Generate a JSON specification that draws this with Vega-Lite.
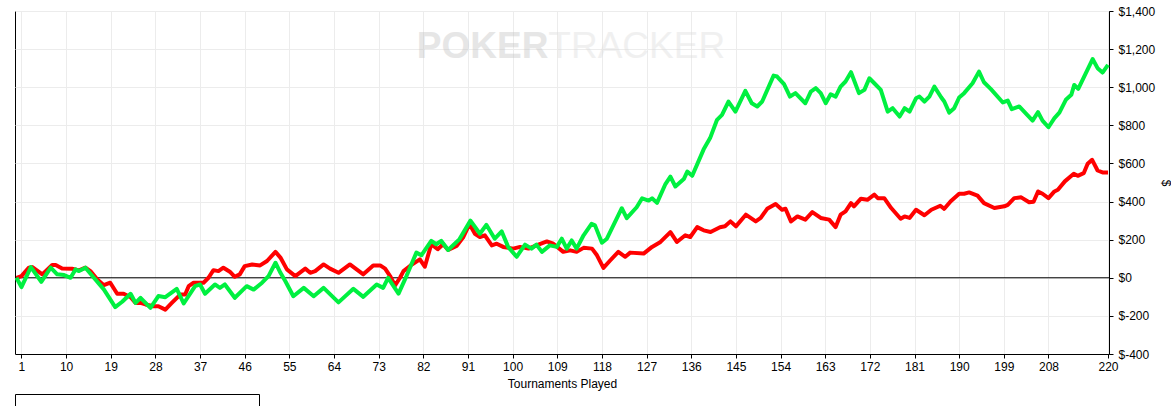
{
  "$schema": "https://vega.github.io/schema/vega-lite/v6.json",
  "width": 1094,
  "height": 343,
  "autosize": {"type": "none"},
  "padding": {"left": 15, "top": 11, "right": 62, "bottom": 52},
  "background": "white",
  "view": {"stroke": "black", "strokeWidth": 1},
  "config": {
    "font": "Liberation Sans",
    "axis": {
      "labelFont": "Liberation Sans",
      "labelFontSize": 12,
      "labelColor": "black",
      "labelOverlap": false,
      "labelFlush": false,
      "titleFont": "Liberation Sans",
      "titleFontSize": 12,
      "titleFontWeight": "normal",
      "titleColor": "black",
      "domainColor": "black",
      "tickColor": "black",
      "tickSize": 4,
      "gridColor": "#ececec",
      "gridWidth": 1
    },
    "axisY": {"labelOverlap": false, "labelFlush": false}
  },
  "datasets": {
    "graph": [
      {"Series": "All-In EV", "t": 0, "v": 0}, {"Series": "All-In EV", "t": 1, "v": 9}, {"Series": "All-In EV", "t": 2.5, "v": 53}, {"Series": "All-In EV", "t": 3.2, "v": 56}, {"Series": "All-In EV", "t": 5.2, "v": 18}, {"Series": "All-In EV", "t": 7.2, "v": 67}, {"Series": "All-In EV", "t": 7.9, "v": 67}, {"Series": "All-In EV", "t": 9.2, "v": 49}, {"Series": "All-In EV", "t": 11.2, "v": 47}, {"Series": "All-In EV", "t": 12.6, "v": 39}, {"Series": "All-In EV", "t": 13.9, "v": 53}, {"Series": "All-In EV", "t": 14.9, "v": 35}, {"Series": "All-In EV", "t": 16.3, "v": -9}, {"Series": "All-In EV", "t": 17.6, "v": -39}, {"Series": "All-In EV", "t": 18.9, "v": -26}, {"Series": "All-In EV", "t": 20.3, "v": -84}, {"Series": "All-In EV", "t": 21.6, "v": -84}, {"Series": "All-In EV", "t": 23, "v": -102}, {"Series": "All-In EV", "t": 24, "v": -132}, {"Series": "All-In EV", "t": 25, "v": -132}, {"Series": "All-In EV", "t": 26, "v": -140}, {"Series": "All-In EV", "t": 27.6, "v": -149}, {"Series": "All-In EV", "t": 28.6, "v": -149}, {"Series": "All-In EV", "t": 30, "v": -167}, {"Series": "All-In EV", "t": 31.3, "v": -132}, {"Series": "All-In EV", "t": 33, "v": -88}, {"Series": "All-In EV", "t": 34, "v": -88}, {"Series": "All-In EV", "t": 34.7, "v": -44}, {"Series": "All-In EV", "t": 35.7, "v": -26}, {"Series": "All-In EV", "t": 37.7, "v": -26}, {"Series": "All-In EV", "t": 38.7, "v": 0}, {"Series": "All-In EV", "t": 39.7, "v": 40}, {"Series": "All-In EV", "t": 40.7, "v": 35}, {"Series": "All-In EV", "t": 41.7, "v": 53}, {"Series": "All-In EV", "t": 43, "v": 32}, {"Series": "All-In EV", "t": 44, "v": 5}, {"Series": "All-In EV", "t": 45, "v": 18}, {"Series": "All-In EV", "t": 46, "v": 61}, {"Series": "All-In EV", "t": 47.5, "v": 70}, {"Series": "All-In EV", "t": 49.1, "v": 65}, {"Series": "All-In EV", "t": 50.5, "v": 88}, {"Series": "All-In EV", "t": 52.2, "v": 136}, {"Series": "All-In EV", "t": 53.2, "v": 106}, {"Series": "All-In EV", "t": 54.5, "v": 44}, {"Series": "All-In EV", "t": 56.2, "v": 9}, {"Series": "All-In EV", "t": 58.2, "v": 48}, {"Series": "All-In EV", "t": 59.2, "v": 26}, {"Series": "All-In EV", "t": 60.2, "v": 35}, {"Series": "All-In EV", "t": 61.9, "v": 70}, {"Series": "All-In EV", "t": 63.2, "v": 48}, {"Series": "All-In EV", "t": 64.9, "v": 26}, {"Series": "All-In EV", "t": 67.2, "v": 70}, {"Series": "All-In EV", "t": 69.9, "v": 18}, {"Series": "All-In EV", "t": 71.9, "v": 65}, {"Series": "All-In EV", "t": 73.3, "v": 65}, {"Series": "All-In EV", "t": 74.3, "v": 48}, {"Series": "All-In EV", "t": 75.3, "v": 9}, {"Series": "All-In EV", "t": 76.3, "v": -40}, {"Series": "All-In EV", "t": 77.3, "v": 0}, {"Series": "All-In EV", "t": 78, "v": 35}, {"Series": "All-In EV", "t": 79.3, "v": 62}, {"Series": "All-In EV", "t": 81.3, "v": 97}, {"Series": "All-In EV", "t": 82.3, "v": 58}, {"Series": "All-In EV", "t": 83.6, "v": 176}, {"Series": "All-In EV", "t": 84.9, "v": 150}, {"Series": "All-In EV", "t": 86, "v": 176}, {"Series": "All-In EV", "t": 87, "v": 146}, {"Series": "All-In EV", "t": 88.7, "v": 167}, {"Series": "All-In EV", "t": 90, "v": 211}, {"Series": "All-In EV", "t": 91.3, "v": 282}, {"Series": "All-In EV", "t": 92.4, "v": 231}, {"Series": "All-In EV", "t": 93.4, "v": 214}, {"Series": "All-In EV", "t": 94.4, "v": 223}, {"Series": "All-In EV", "t": 95.8, "v": 170}, {"Series": "All-In EV", "t": 96.8, "v": 179}, {"Series": "All-In EV", "t": 98.1, "v": 162}, {"Series": "All-In EV", "t": 100.1, "v": 153}, {"Series": "All-In EV", "t": 101.5, "v": 162}, {"Series": "All-In EV", "t": 103.2, "v": 153}, {"Series": "All-In EV", "t": 104.8, "v": 170}, {"Series": "All-In EV", "t": 106.9, "v": 191}, {"Series": "All-In EV", "t": 108.2, "v": 179}, {"Series": "All-In EV", "t": 110.2, "v": 136}, {"Series": "All-In EV", "t": 111.6, "v": 144}, {"Series": "All-In EV", "t": 112.9, "v": 136}, {"Series": "All-In EV", "t": 114.3, "v": 157}, {"Series": "All-In EV", "t": 116, "v": 153}, {"Series": "All-In EV", "t": 117, "v": 118}, {"Series": "All-In EV", "t": 118.3, "v": 52}, {"Series": "All-In EV", "t": 119.7, "v": 92}, {"Series": "All-In EV", "t": 121.3, "v": 136}, {"Series": "All-In EV", "t": 122.7, "v": 110}, {"Series": "All-In EV", "t": 123.7, "v": 132}, {"Series": "All-In EV", "t": 126.4, "v": 127}, {"Series": "All-In EV", "t": 128.1, "v": 162}, {"Series": "All-In EV", "t": 129.8, "v": 188}, {"Series": "All-In EV", "t": 131.8, "v": 240}, {"Series": "All-In EV", "t": 133.1, "v": 188}, {"Series": "All-In EV", "t": 134.8, "v": 223}, {"Series": "All-In EV", "t": 135.8, "v": 214}, {"Series": "All-In EV", "t": 137.2, "v": 266}, {"Series": "All-In EV", "t": 138.5, "v": 249}, {"Series": "All-In EV", "t": 139.9, "v": 240}, {"Series": "All-In EV", "t": 141.8, "v": 265}, {"Series": "All-In EV", "t": 142.8, "v": 270}, {"Series": "All-In EV", "t": 143.9, "v": 296}, {"Series": "All-In EV", "t": 145, "v": 270}, {"Series": "All-In EV", "t": 147, "v": 331}, {"Series": "All-In EV", "t": 149, "v": 296}, {"Series": "All-In EV", "t": 150, "v": 314}, {"Series": "All-In EV", "t": 151.3, "v": 362}, {"Series": "All-In EV", "t": 153, "v": 387}, {"Series": "All-In EV", "t": 154.3, "v": 357}, {"Series": "All-In EV", "t": 155, "v": 362}, {"Series": "All-In EV", "t": 156.1, "v": 296}, {"Series": "All-In EV", "t": 157.4, "v": 322}, {"Series": "All-In EV", "t": 159, "v": 305}, {"Series": "All-In EV", "t": 160.4, "v": 345}, {"Series": "All-In EV", "t": 162.1, "v": 314}, {"Series": "All-In EV", "t": 163.8, "v": 305}, {"Series": "All-In EV", "t": 165.1, "v": 266}, {"Series": "All-In EV", "t": 166.1, "v": 331}, {"Series": "All-In EV", "t": 167.1, "v": 349}, {"Series": "All-In EV", "t": 168.2, "v": 392}, {"Series": "All-In EV", "t": 168.8, "v": 375}, {"Series": "All-In EV", "t": 170.2, "v": 415}, {"Series": "All-In EV", "t": 171.5, "v": 409}, {"Series": "All-In EV", "t": 172.9, "v": 436}, {"Series": "All-In EV", "t": 173.6, "v": 418}, {"Series": "All-In EV", "t": 174.9, "v": 418}, {"Series": "All-In EV", "t": 176.3, "v": 366}, {"Series": "All-In EV", "t": 178.2, "v": 310}, {"Series": "All-In EV", "t": 179, "v": 322}, {"Series": "All-In EV", "t": 180, "v": 314}, {"Series": "All-In EV", "t": 181.3, "v": 357}, {"Series": "All-In EV", "t": 183, "v": 328}, {"Series": "All-In EV", "t": 184.4, "v": 357}, {"Series": "All-In EV", "t": 186.2, "v": 378}, {"Series": "All-In EV", "t": 187, "v": 362}, {"Series": "All-In EV", "t": 188.3, "v": 402}, {"Series": "All-In EV", "t": 190, "v": 441}, {"Series": "All-In EV", "t": 191, "v": 441}, {"Series": "All-In EV", "t": 192, "v": 448}, {"Series": "All-In EV", "t": 193.7, "v": 431}, {"Series": "All-In EV", "t": 195, "v": 392}, {"Series": "All-In EV", "t": 197.1, "v": 366}, {"Series": "All-In EV", "t": 199.1, "v": 375}, {"Series": "All-In EV", "t": 199.8, "v": 383}, {"Series": "All-In EV", "t": 201.1, "v": 418}, {"Series": "All-In EV", "t": 202.5, "v": 422}, {"Series": "All-In EV", "t": 204.1, "v": 396}, {"Series": "All-In EV", "t": 205, "v": 399}, {"Series": "All-In EV", "t": 205.9, "v": 453}, {"Series": "All-In EV", "t": 206.8, "v": 441}, {"Series": "All-In EV", "t": 208, "v": 418}, {"Series": "All-In EV", "t": 209.2, "v": 453}, {"Series": "All-In EV", "t": 209.9, "v": 462}, {"Series": "All-In EV", "t": 211.3, "v": 506}, {"Series": "All-In EV", "t": 213.1, "v": 546}, {"Series": "All-In EV", "t": 213.9, "v": 535}, {"Series": "All-In EV", "t": 215.1, "v": 549}, {"Series": "All-In EV", "t": 215.9, "v": 598}, {"Series": "All-In EV", "t": 216.8, "v": 619}, {"Series": "All-In EV", "t": 217.9, "v": 563}, {"Series": "All-In EV", "t": 218.9, "v": 553}, {"Series": "All-In EV", "t": 220, "v": 553},
      {"Series": "Net Won", "t": 0, "v": 0}, {"Series": "Net Won", "t": 1, "v": -49}, {"Series": "Net Won", "t": 2.9, "v": 56}, {"Series": "Net Won", "t": 5, "v": -21}, {"Series": "Net Won", "t": 6.9, "v": 53}, {"Series": "Net Won", "t": 8.2, "v": 18}, {"Series": "Net Won", "t": 9.6, "v": 14}, {"Series": "Net Won", "t": 10.9, "v": 0}, {"Series": "Net Won", "t": 11.9, "v": 44}, {"Series": "Net Won", "t": 12.6, "v": 35}, {"Series": "Net Won", "t": 13.9, "v": 53}, {"Series": "Net Won", "t": 15.6, "v": 0}, {"Series": "Net Won", "t": 17.6, "v": -61}, {"Series": "Net Won", "t": 19.9, "v": -154}, {"Series": "Net Won", "t": 21.3, "v": -126}, {"Series": "Net Won", "t": 23, "v": -84}, {"Series": "Net Won", "t": 24, "v": -132}, {"Series": "Net Won", "t": 25, "v": -105}, {"Series": "Net Won", "t": 27, "v": -158}, {"Series": "Net Won", "t": 28.6, "v": -96}, {"Series": "Net Won", "t": 30, "v": -102}, {"Series": "Net Won", "t": 32.3, "v": -58}, {"Series": "Net Won", "t": 33.7, "v": -135}, {"Series": "Net Won", "t": 36, "v": -44}, {"Series": "Net Won", "t": 37, "v": -35}, {"Series": "Net Won", "t": 38, "v": -84}, {"Series": "Net Won", "t": 40, "v": -35}, {"Series": "Net Won", "t": 41, "v": -53}, {"Series": "Net Won", "t": 42, "v": -35}, {"Series": "Net Won", "t": 44, "v": -105}, {"Series": "Net Won", "t": 46.4, "v": -44}, {"Series": "Net Won", "t": 47.8, "v": -62}, {"Series": "Net Won", "t": 49.5, "v": -26}, {"Series": "Net Won", "t": 50.8, "v": 9}, {"Series": "Net Won", "t": 52.2, "v": 79}, {"Series": "Net Won", "t": 53.2, "v": 26}, {"Series": "Net Won", "t": 54.2, "v": -18}, {"Series": "Net Won", "t": 55.8, "v": -97}, {"Series": "Net Won", "t": 57.9, "v": -53}, {"Series": "Net Won", "t": 59.9, "v": -97}, {"Series": "Net Won", "t": 61.9, "v": -53}, {"Series": "Net Won", "t": 64.9, "v": -129}, {"Series": "Net Won", "t": 67.9, "v": -58}, {"Series": "Net Won", "t": 69.9, "v": -100}, {"Series": "Net Won", "t": 72.6, "v": -35}, {"Series": "Net Won", "t": 73.9, "v": -53}, {"Series": "Net Won", "t": 74.9, "v": 0}, {"Series": "Net Won", "t": 77, "v": -83}, {"Series": "Net Won", "t": 78.6, "v": 9}, {"Series": "Net Won", "t": 80.6, "v": 132}, {"Series": "Net Won", "t": 81.6, "v": 118}, {"Series": "Net Won", "t": 83.6, "v": 194}, {"Series": "Net Won", "t": 84.6, "v": 176}, {"Series": "Net Won", "t": 85.6, "v": 194}, {"Series": "Net Won", "t": 87, "v": 146}, {"Series": "Net Won", "t": 89.3, "v": 203}, {"Series": "Net Won", "t": 91.5, "v": 300}, {"Series": "Net Won", "t": 93.4, "v": 231}, {"Series": "Net Won", "t": 94.7, "v": 278}, {"Series": "Net Won", "t": 96.4, "v": 205}, {"Series": "Net Won", "t": 97.8, "v": 243}, {"Series": "Net Won", "t": 99.1, "v": 162}, {"Series": "Net Won", "t": 100.8, "v": 110}, {"Series": "Net Won", "t": 102.5, "v": 174}, {"Series": "Net Won", "t": 103.8, "v": 153}, {"Series": "Net Won", "t": 104.8, "v": 174}, {"Series": "Net Won", "t": 105.9, "v": 136}, {"Series": "Net Won", "t": 107.5, "v": 170}, {"Series": "Net Won", "t": 108.9, "v": 162}, {"Series": "Net Won", "t": 109.9, "v": 205}, {"Series": "Net Won", "t": 110.9, "v": 153}, {"Series": "Net Won", "t": 111.9, "v": 196}, {"Series": "Net Won", "t": 112.9, "v": 153}, {"Series": "Net Won", "t": 114.3, "v": 223}, {"Series": "Net Won", "t": 115.9, "v": 283}, {"Series": "Net Won", "t": 116.6, "v": 275}, {"Series": "Net Won", "t": 118, "v": 184}, {"Series": "Net Won", "t": 119, "v": 205}, {"Series": "Net Won", "t": 122, "v": 365}, {"Series": "Net Won", "t": 123, "v": 313}, {"Series": "Net Won", "t": 125, "v": 370}, {"Series": "Net Won", "t": 126.1, "v": 417}, {"Series": "Net Won", "t": 127.4, "v": 405}, {"Series": "Net Won", "t": 128.1, "v": 417}, {"Series": "Net Won", "t": 129.1, "v": 393}, {"Series": "Net Won", "t": 130.8, "v": 492}, {"Series": "Net Won", "t": 131.8, "v": 531}, {"Series": "Net Won", "t": 132.8, "v": 479}, {"Series": "Net Won", "t": 134.5, "v": 518}, {"Series": "Net Won", "t": 135.2, "v": 557}, {"Series": "Net Won", "t": 136.2, "v": 535}, {"Series": "Net Won", "t": 138.5, "v": 674}, {"Series": "Net Won", "t": 139.8, "v": 733}, {"Series": "Net Won", "t": 141.2, "v": 829}, {"Series": "Net Won", "t": 142.2, "v": 855}, {"Series": "Net Won", "t": 143.5, "v": 925}, {"Series": "Net Won", "t": 144.9, "v": 872}, {"Series": "Net Won", "t": 146.9, "v": 981}, {"Series": "Net Won", "t": 148.2, "v": 916}, {"Series": "Net Won", "t": 149.3, "v": 899}, {"Series": "Net Won", "t": 150.3, "v": 925}, {"Series": "Net Won", "t": 152.6, "v": 1061}, {"Series": "Net Won", "t": 153.3, "v": 1056}, {"Series": "Net Won", "t": 154.7, "v": 1016}, {"Series": "Net Won", "t": 155.9, "v": 951}, {"Series": "Net Won", "t": 157, "v": 969}, {"Series": "Net Won", "t": 159, "v": 916}, {"Series": "Net Won", "t": 160.1, "v": 977}, {"Series": "Net Won", "t": 161.1, "v": 995}, {"Series": "Net Won", "t": 162.1, "v": 969}, {"Series": "Net Won", "t": 163.1, "v": 916}, {"Series": "Net Won", "t": 164.1, "v": 963}, {"Series": "Net Won", "t": 165.1, "v": 951}, {"Series": "Net Won", "t": 166.1, "v": 1003}, {"Series": "Net Won", "t": 167.1, "v": 1030}, {"Series": "Net Won", "t": 168.2, "v": 1079}, {"Series": "Net Won", "t": 169.8, "v": 969}, {"Series": "Net Won", "t": 170.9, "v": 986}, {"Series": "Net Won", "t": 171.9, "v": 1047}, {"Series": "Net Won", "t": 172.9, "v": 1021}, {"Series": "Net Won", "t": 174.2, "v": 986}, {"Series": "Net Won", "t": 175.6, "v": 872}, {"Series": "Net Won", "t": 176.6, "v": 890}, {"Series": "Net Won", "t": 178, "v": 846}, {"Series": "Net Won", "t": 179, "v": 890}, {"Series": "Net Won", "t": 180, "v": 872}, {"Series": "Net Won", "t": 181.3, "v": 942}, {"Series": "Net Won", "t": 182, "v": 951}, {"Series": "Net Won", "t": 183, "v": 925}, {"Series": "Net Won", "t": 184, "v": 951}, {"Series": "Net Won", "t": 185, "v": 1003}, {"Series": "Net Won", "t": 186.4, "v": 946}, {"Series": "Net Won", "t": 187, "v": 925}, {"Series": "Net Won", "t": 188, "v": 867}, {"Series": "Net Won", "t": 189, "v": 890}, {"Series": "Net Won", "t": 190, "v": 946}, {"Series": "Net Won", "t": 191, "v": 969}, {"Series": "Net Won", "t": 192.7, "v": 1021}, {"Series": "Net Won", "t": 194, "v": 1082}, {"Series": "Net Won", "t": 195, "v": 1026}, {"Series": "Net Won", "t": 196.4, "v": 990}, {"Series": "Net Won", "t": 198.8, "v": 920}, {"Series": "Net Won", "t": 199.8, "v": 930}, {"Series": "Net Won", "t": 200.6, "v": 885}, {"Series": "Net Won", "t": 202.1, "v": 899}, {"Series": "Net Won", "t": 204.8, "v": 825}, {"Series": "Net Won", "t": 205.9, "v": 869}, {"Series": "Net Won", "t": 206.8, "v": 825}, {"Series": "Net Won", "t": 208, "v": 790}, {"Series": "Net Won", "t": 209.2, "v": 838}, {"Series": "Net Won", "t": 210.2, "v": 867}, {"Series": "Net Won", "t": 211.5, "v": 934}, {"Series": "Net Won", "t": 212.6, "v": 960}, {"Series": "Net Won", "t": 213.2, "v": 1012}, {"Series": "Net Won", "t": 214, "v": 991}, {"Series": "Net Won", "t": 216.9, "v": 1148}, {"Series": "Net Won", "t": 217.9, "v": 1100}, {"Series": "Net Won", "t": 218.9, "v": 1077}, {"Series": "Net Won", "t": 220, "v": 1117}
    ],
    "watermark": [
      {"part": "POKER", "t": 107.2, "v": 1212},
      {"part": "TRACKER", "t": 107.2, "v": 1212}
    ]
  },
  "encoding": {
    "x": {
      "field": "t",
      "type": "quantitative",
      "scale": {"domain": [-0.3, 220.2], "nice": false, "zero": false},
      "axis": {
        "title": "Tournaments Played",
        "values": [1, 10, 19, 28, 37, 46, 55, 64, 73, 82, 91, 100, 109, 118, 127, 136, 145, 154, 163, 172, 181, 190, 199, 208, 220],
        "labelPadding": 3,
        "titlePadding": 6,
        "labelFlush": false,
        "labelOverlap": false
      }
    },
    "y": {
      "field": "v",
      "type": "quantitative",
      "scale": {"domain": [-400, 1400], "nice": false},
      "axis": {
        "orient": "right",
        "title": "$",
        "values": [-400, -200, 0, 200, 400, 600, 800, 1000, 1200, 1400],
        "labelExpr": "(datum.value < 0 ? '$-' : '$') + format(abs(datum.value), ',')",
        "labelPadding": 5,
        "titlePadding": 4,
        "labelFlush": false,
        "labelOverlap": false,
        "labelBound": false
      }
    }
  },
  "layer": [
    {
      "data": {"name": "watermark"},
      "transform": [{"filter": "datum.part == 'POKER'"}],
      "mark": {"type": "text", "align": "right", "baseline": "middle", "font": "Liberation Sans", "fontWeight": "bold", "fontSize": 37, "fill": "#c8c8c8", "opacity": 0.45},
      "encoding": {"text": {"field": "part"}}
    },
    {
      "data": {"name": "watermark"},
      "transform": [{"filter": "datum.part == 'TRACKER'"}],
      "mark": {"type": "text", "align": "left", "baseline": "middle", "font": "Liberation Sans", "fontSize": 37, "fill": "#dcdcdc", "opacity": 0.4},
      "encoding": {"text": {"field": "part"}}
    },
    {
      "data": {"values": [{"v": 0}]},
      "mark": {"type": "rule", "color": "black", "strokeWidth": 1},
      "encoding": {"x": null}
    },
    {
      "data": {"name": "graph"},
      "mark": {"type": "line", "strokeWidth": 4, "strokeJoin": "round"},
      "encoding": {
        "color": {
          "field": "Series",
          "type": "nominal",
          "scale": {"domain": ["All-In EV", "Net Won"], "range": ["#ff0000", "#00f040"]},
          "legend": {
            "orient": "bottom",
            "direction": "horizontal",
            "title": null,
            "offset": 5,
            "strokeColor": "black",
            "padding": 8,
            "symbolType": "stroke",
            "symbolStrokeWidth": 4,
            "symbolSize": 300,
            "labelFontSize": 12,
            "labelColor": "black",
            "columnPadding": 76
          }
        }
      }
    }
  ]
}
